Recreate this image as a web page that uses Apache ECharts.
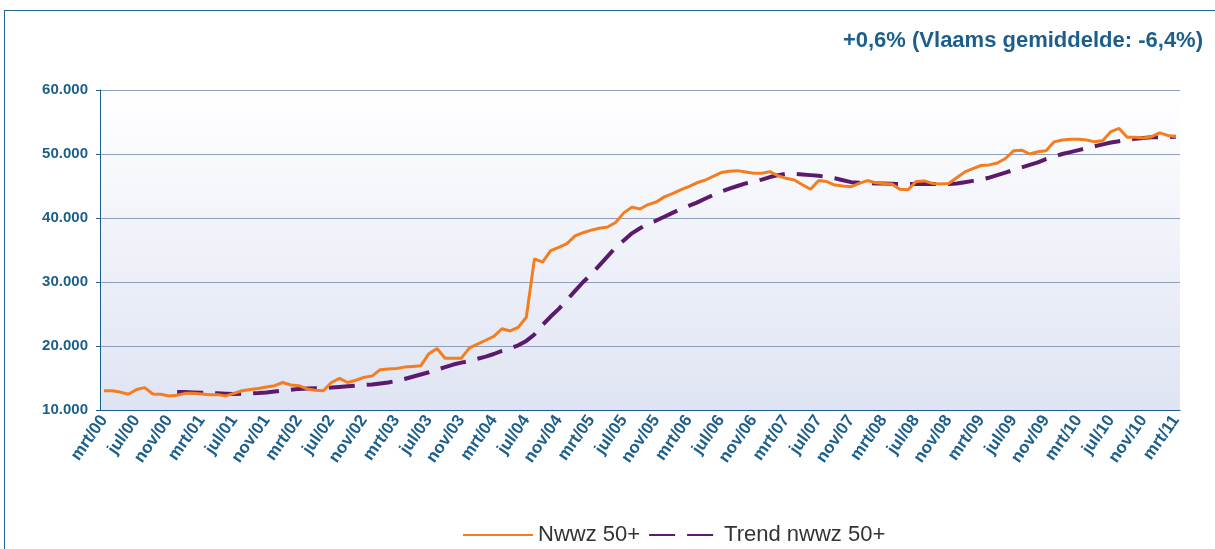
<!DOCTYPE html>
<html>
<head>
<meta charset="utf-8">
<script src="https://cdn.jsdelivr.net/npm/echarts@6/dist/echarts.min.js"></script>
<style>
	html, body { margin: 0; padding: 0; background: #fff; }
	#frame { position: absolute; left: 4px; top: 10px; width: 1215px; height: 545px; border-top: 1px solid #1f6391; border-left: 1px solid #1f6391; }
	#main { position: absolute; left: 0; top: 0; width: 1215px; height: 549px; }
</style>
</head>
<body>
<div id="frame"></div>
<div id="main"></div>
<script>
// maanden mrt/00 .. mrt/11
const monthNames = ['jan', 'feb', 'mrt', 'apr', 'mei', 'jun', 'jul', 'aug', 'sep', 'okt', 'nov', 'dec'];
const months = [];
for (let y = 0; y <= 11; y++) {
	for (let m = 0; m < 12; m++) {
		if (y === 0 && m < 2) continue;
		if (y === 11 && m > 2) continue;
		months.push(monthNames[m] + '/' + String(y).padStart(2, '0'));
	}
}

// Nwwz 50+
const nwwz = [
	13000, 13000, 12800, 12450, 13200, 13500, 12500, 12450, 12200, 12300,
	12600, 12600, 12500, 12400, 12400, 12200, 12600, 13000, 13200, 13350,
	13600, 13800, 14300, 13900, 13800, 13300, 13100, 13000, 14300, 14950,
	14300, 14650, 15100, 15300, 16300, 16400, 16500, 16700, 16800, 16900,
	18800, 19600, 18100, 18100, 18100, 19700, 20300, 20900, 21500, 22700,
	22350, 22900, 24500, 33600, 33100, 34900, 35400, 36000, 37200, 37700,
	38100, 38400, 38600, 39300, 40800, 41700, 41400, 42100, 42500, 43300,
	43800, 44400, 44900, 45500, 45900, 46500, 47100, 47300, 47400, 47200,
	47000, 47000, 47250, 46600, 46200, 45950, 45200, 44500, 45850, 45700,
	45150, 45000, 44900, 45400, 45850, 45500, 45400, 45300, 44500, 44400,
	45700, 45800, 45400, 45300, 45400, 46300, 47200, 47700, 48200, 48300,
	48600, 49300, 50500, 50600, 50000, 50350, 50500, 51900, 52200, 52300,
	52300, 52200, 51900, 52100, 53500, 54000, 52600, 52600, 52500, 52700,
	53300, 52900, 52700
];

// Trend nwwz 50+
const trend = [
	null, null, null, null, null, null, null, null, null, 12800,
	12800, 12750, 12700, 12650, 12600, 12550, 12500, 12550, 12600, 12650,
	12750, 12900, 13050, 13150, 13300, 13350, 13400, 13450, 13500, 13600,
	13700, 13800, 13900, 14000, 14150, 14300, 14550, 14850, 15200, 15550,
	15900, 16300, 16700, 17100, 17400, 17650, 18000, 18350, 18750, 19250,
	19650, 20100, 20800, 21800, 23300, 24600, 25800, 27200, 28600, 30000,
	31200, 32600, 34000, 35400, 36500, 37600, 38400, 39100, 39600, 40200,
	40800, 41400, 41900, 42400, 43000, 43600, 44100, 44600, 45000, 45400,
	45700, 46000, 46400, 46700, 46900, 46900, 46800, 46700, 46600, 46400,
	46200, 45900, 45600, 45500, 45500, 45400, 45400, 45350, 45300, 45300,
	45300, 45300, 45300, 45300, 45300, 45400, 45600, 45800, 46000, 46300,
	46700, 47100, 47500, 47900, 48300, 48700, 49200, 49600, 50000, 50300,
	50600, 50900, 51200, 51500, 51800, 52000, 52200, 52400, 52500, 52600,
	52600, 52650, 52700
];

const yTicks = [10000, 20000, 30000, 40000, 50000, 60000];
const titleText = '+0,6% (Vlaams gemiddelde: -6,4%)';

const blue = '#1d5f8c';
const chart = echarts.init(document.getElementById('main'));

chart.setOption({
	animation: false,
	title: {
		text: titleText,
		right: 7,
		top: 25,
		textStyle: { color: blue, fontSize: 22, fontWeight: 'bold', fontFamily: 'Liberation Sans' }
	},
	legend: {
		left: 457,
		top: 519,
		itemWidth: 70,
		itemHeight: 10,
		itemGap: 8,
		itemStyle: { opacity: 0 },
		textStyle: { color: '#333', fontSize: 22, fontFamily: 'Liberation Sans' },
		data: ['Nwwz 50+', 'Trend nwwz 50+']
	},
	grid: {
		left: 100,
		right: 35,
		top: 90,
		bottom: 139,
		show: true,
		borderWidth: 0,
		backgroundColor: {
			type: 'linear', x: 0, y: 0, x2: 0, y2: 1,
			colorStops: [
				{ offset: 0, color: '#ffffff' },
				{ offset: 1, color: '#dfe4f3' }
			]
		}
	},
	xAxis: {
		type: 'category',
		data: months,
		boundaryGap: true,
		axisLine: { lineStyle: { color: blue, width: 1 } },
		axisTick: { interval: 0, length: 5, lineStyle: { color: blue } },
		axisLabel: {
			interval: 3,
			rotate: 55,
			color: blue,
			fontSize: 17,
			fontWeight: 'bold',
			fontFamily: 'Liberation Sans',
			margin: 7
		}
	},
	yAxis: {
		type: 'value',
		min: yTicks[0],
		max: yTicks[yTicks.length - 1],
		interval: 10000,
		axisLine: { show: true, lineStyle: { color: blue, width: 1 } },
		axisTick: { show: true, length: 4, lineStyle: { color: blue } },
		splitLine: { lineStyle: { color: '#8f9fb8', width: 1.2 } },
		axisLabel: {
			color: blue,
			fontSize: 15,
			fontWeight: 'bold',
			fontFamily: 'Liberation Sans',
			margin: 12,
			formatter: v => (v / 1000) + '.000'
		}
	},
	series: [
		{
			name: 'Nwwz 50+',
			type: 'line',
			data: nwwz,
			symbol: 'none',
			z: 3,
			lineStyle: { color: '#f47d1f', width: 3 },
			itemStyle: { color: '#f47d1f' }
		},
		{
			name: 'Trend nwwz 50+',
			type: 'line',
			data: trend,
			symbol: 'none',
			z: 2,
			lineStyle: { color: '#5c1a6c', width: 4, type: [26, 12] },
			itemStyle: { color: '#5c1a6c' }
		}
	]
});
</script>
</body>
</html>
